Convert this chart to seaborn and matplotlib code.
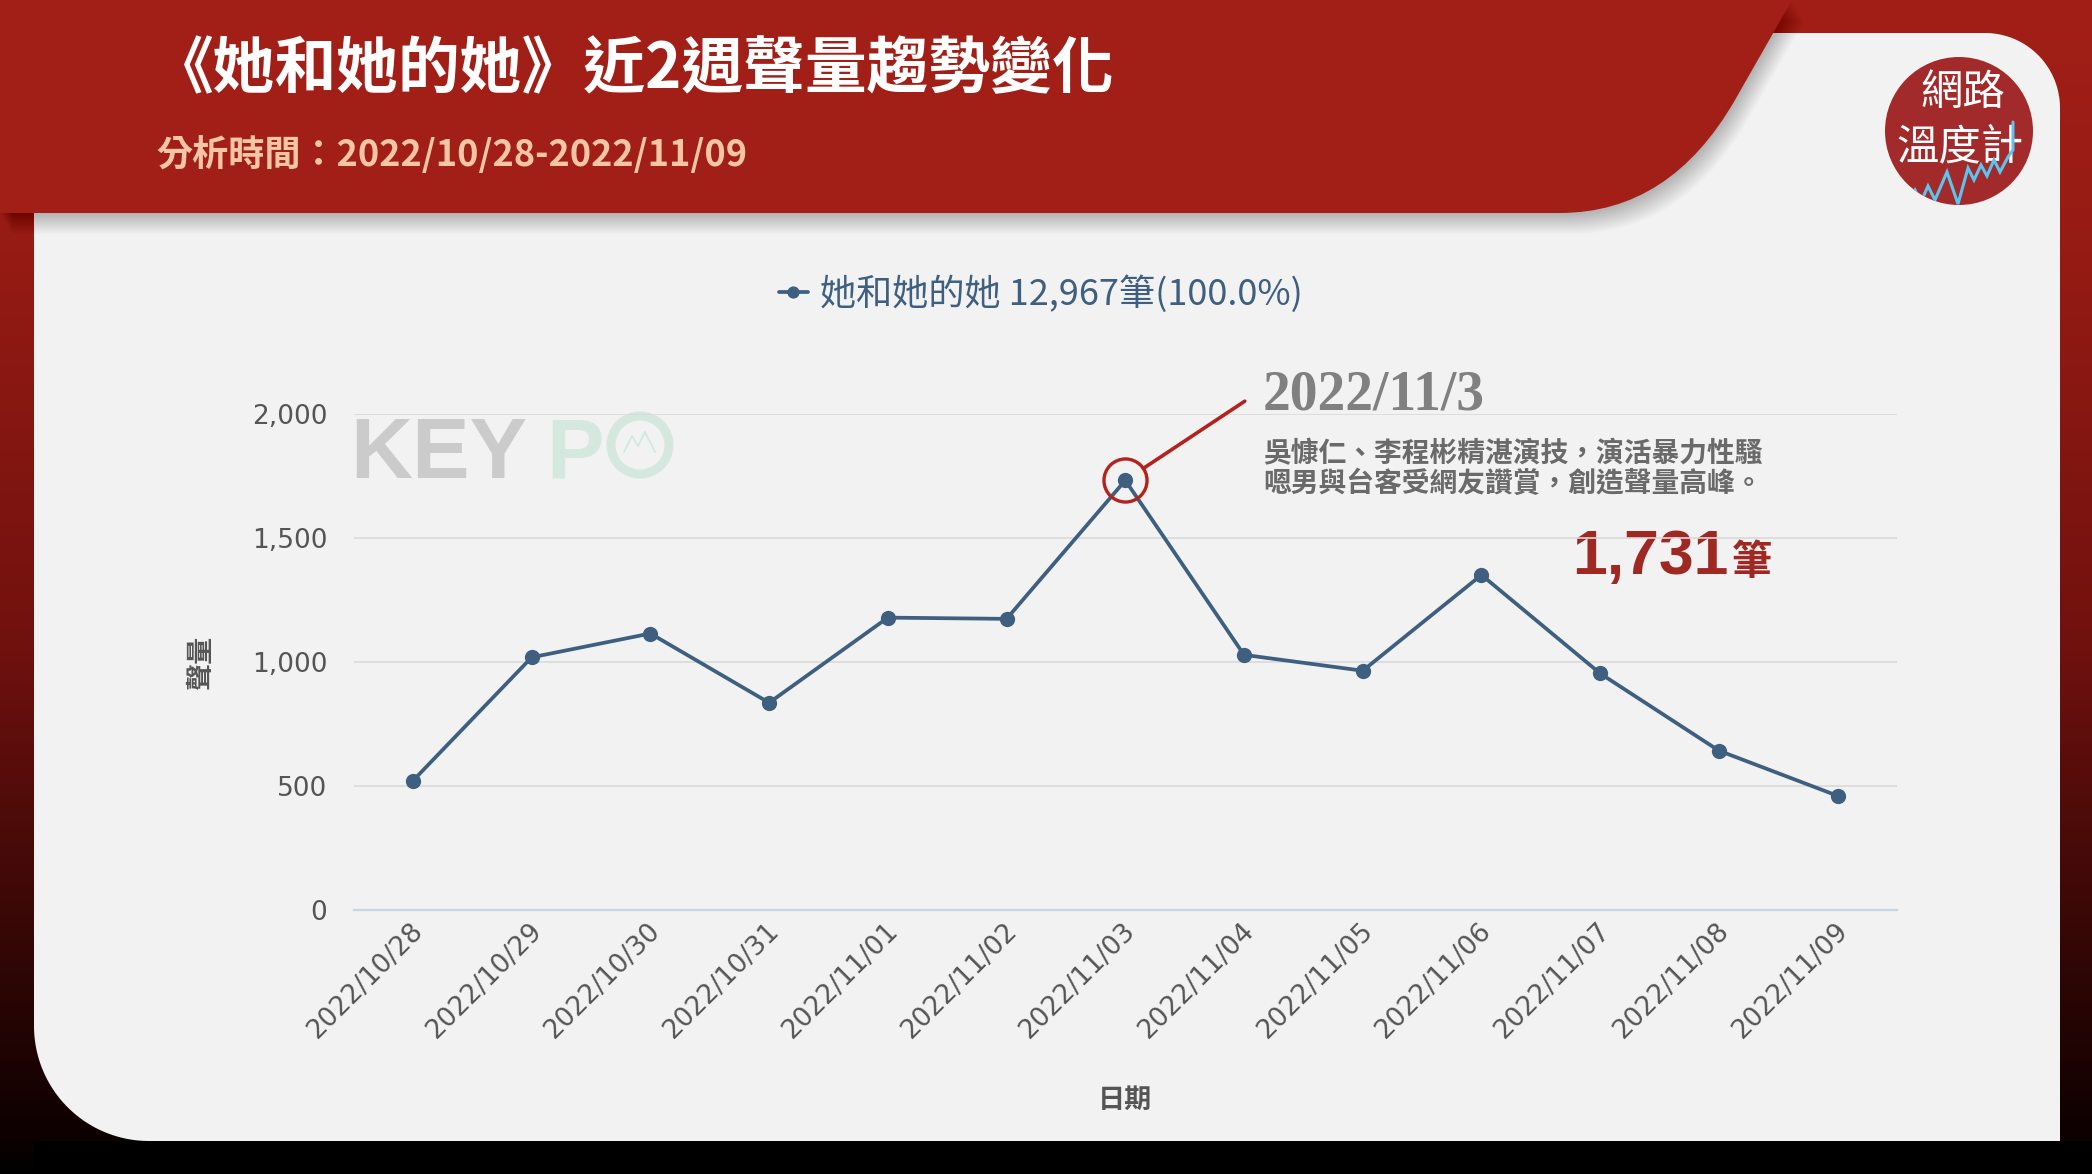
import numpy as np
import pandas as pd
import matplotlib
matplotlib.use("Agg")
import matplotlib.pyplot as plt
import seaborn as sns
from matplotlib.path import Path
from matplotlib.patches import PathPatch, Circle, Polygon
from matplotlib import font_manager as fm
import matplotlib.transforms as mtrans

# ---------------- data ----------------
dates = ["2022/10/28", "2022/10/29", "2022/10/30", "2022/10/31", "2022/11/01",
         "2022/11/02", "2022/11/03", "2022/11/04", "2022/11/05", "2022/11/06",
         "2022/11/07", "2022/11/08", "2022/11/09"]
volumes = [521, 1018, 1114, 835, 1178, 1173, 1731, 1028, 964, 1350, 953, 642, 460]
y_ticks = [0, 500, 1000, 1500, 2000]
y_tick_labels = ["0", "500", "1,000", "1,500", "2,000"]
legend_label = "她和她的她 12,967筆(100.0%)"
title_text = "《她和她的她》近2週聲量趨勢變化"
subtitle_text = "分析時間：2022/10/28-2022/11/09"
x_label = "日期"
y_label = "聲量"
peak_date_text = "2022/11/3"
peak_note = ["吳慷仁、李程彬精湛演技，演活暴力性騷", "嗯男與台客受網友讚賞，創造聲量高峰。"]
peak_value_text = "1,731"
peak_unit = "筆"
logo_lines = ["網路", "溫度計"]

# ---------------- style ----------------
W, H = 2092, 1174
sns.set_theme(style="white")
plt.rcParams["font.family"] = ["Noto Sans CJK TC", "DejaVu Sans"]

LINE = "#3e5f7f"
RED_HDR = "#a21f17"
RED_ANN = "#b2231e"
RED_NUM = "#a02823"
GRAY_TXT = "#555555"

names = {f.name for f in fm.fontManager.ttflist}
narrow = "Liberation Sans Narrow" if "Liberation Sans Narrow" in names else None

fig = plt.figure(figsize=(W / 100, H / 100), dpi=100)

# background axes in pixel coordinates (y down)
bg = fig.add_axes([0, 0, 1, 1])
bg.set_zorder(0)
bg.axis("off")

ys = np.arange(H)
stops_y = [0, 250, 650, 1150, 1174]
stops_r = [162, 150, 112, 10, 0]
stops_g = [31, 27, 17, 0, 0]
stops_b = [23, 20, 14, 0, 0]
grad = np.stack([np.interp(ys, stops_y, stops_r),
                 np.interp(ys, stops_y, stops_g),
                 np.interp(ys, stops_y, stops_b)], axis=-1)[:, None, :] / 255.0
bg.imshow(grad, extent=[0, W, H, 0], aspect="auto", zorder=0, interpolation="bilinear")

# bottom black band
bg.add_patch(plt.Rectangle((34, 1141), W, 40, color="black", zorder=0.5))


def arc(cx, cy, r, a0, a1, n=40):
    a = np.radians(np.linspace(a0, a1, n))
    return np.column_stack([cx + r * np.cos(a), cy + r * np.sin(a)])


x0, y0, x1, y1 = 34, 33, 2060, 1141
r_tr, r_bl = 75, 115
verts = np.vstack([[[x0, y0]],
                   arc(x1 - r_tr, y0 + r_tr, r_tr, -90, 0),
                   [[x1, y1]],
                   arc(x0 + r_bl, y1 - r_bl, r_bl, 90, 180)])
bg.add_patch(Polygon(verts, closed=True, facecolor="#f2f2f2", edgecolor="none", zorder=1))

# header shape with soft shadow
hdr_verts = [(0, 0), (1792, 0), (1735, 100), (1670, 213), (1560, 213), (0, 213), (0, 0)]
hdr_codes = [Path.MOVETO, Path.LINETO, Path.LINETO, Path.CURVE3, Path.CURVE3,
             Path.LINETO, Path.CLOSEPOLY]
hdr_path = Path(hdr_verts, hdr_codes)
for k in range(1, 22):
    sh = PathPatch(hdr_path, facecolor="black", edgecolor="none", alpha=0.012,
                   transform=mtrans.Affine2D().translate(k * 0.6, k) + bg.transData, zorder=1.5)
    bg.add_patch(sh)
bg.add_patch(PathPatch(hdr_path, facecolor=RED_HDR, edgecolor="none", zorder=2))

bg.text(152, 70, title_text, color="white", fontsize=44.5, fontweight="bold",
        va="center", ha="left", zorder=3)
bg.text(156, 155, subtitle_text, color="#f5c6a6", fontsize=26, fontweight="bold",
        va="center", ha="left", zorder=3)

# logo
logo = Circle((1959, 131), 74, facecolor="#a32a2a", edgecolor="none", zorder=3)
bg.add_patch(logo)
bg.text(1963, 93, logo_lines[0], color="white", fontsize=30.5, ha="center", va="center", zorder=4)
bg.text(1960, 147, logo_lines[1], color="white", fontsize=30.5, ha="center", va="center", zorder=4)
zz = np.array([(1905, 205), (1915, 190), (1921, 202), (1928, 186), (1935, 200), (1947, 172),
               (1958, 204), (1968, 168), (1974, 180), (1981, 165), (1987, 176), (1994, 160),
               (2000, 172), (2008, 157), (2013, 150), (2013, 122)])
zl, = bg.plot(zz[:, 0], zz[:, 1], color="#5bc4f0", lw=2.2, zorder=4, solid_joinstyle="miter")
zl.set_clip_path(logo)

# KEYPO watermark
bg.text(350, 478, "KEY", fontsize=62, fontweight="heavy", color="#cbcbcb",
        family=["Liberation Sans", "DejaVu Sans"], va="baseline", ha="left", zorder=1.2)
bg.text(546, 478, "P", fontsize=62, fontweight="heavy", color="#d4e8e0",
        family=["Liberation Sans", "DejaVu Sans"], va="baseline", ha="left", zorder=1.2)
bg.add_patch(Circle((640, 445), 29, fill=False, lw=6.5, edgecolor="#d4e8e0", zorder=1.2))
wm = np.array([(624, 452), (632, 436), (638, 446), (645, 432), (655, 452)])
bg.plot(wm[:, 0], wm[:, 1], color="#d4e8e0", lw=1.4, zorder=1.2)

bg.set_xlim(0, W)
bg.set_ylim(H, 0)

# ---------------- chart ----------------
ax_l, ax_r, ax_t, ax_b = 353.6, 1897.0, 413.6, 910.0
ax = fig.add_axes([ax_l / W, 1 - ax_b / H, (ax_r - ax_l) / W, (ax_b - ax_t) / H])
ax.set_zorder(2)
ax.patch.set_alpha(0)

df = pd.DataFrame({"date": dates, "volume": volumes})
sns.lineplot(data=df, x="date", y="volume", ax=ax, color=LINE, lw=2.7, marker="o",
             markersize=11, markeredgewidth=0, sort=False, label=legend_label, zorder=4)

n = len(dates)
ax.set_xlim(-0.5, n - 0.5)
ax.set_ylim(0, 2000)
ax.set_yticks(y_ticks)
ax.set_yticklabels(y_tick_labels, fontsize=19, color=GRAY_TXT, family="DejaVu Sans")
ax.set_xticks(range(n))
ax.set_xticklabels(dates, rotation=45, ha="right", va="center", rotation_mode="anchor",
                   fontsize=19, color=GRAY_TXT, family="DejaVu Sans")
ax.set_xticks(np.arange(-0.5, n, 1), minor=True)
ax.tick_params(axis="x", which="major", length=0, pad=12.5)
ax.tick_params(axis="x", which="minor", length=9.5, width=1.1, color="#c8d3e3")
ax.tick_params(axis="y", length=0, pad=19)
shift = mtrans.ScaledTranslation(6 / 100, 0, fig.dpi_scale_trans)
for lab in ax.get_xticklabels():
    lab.set_transform(lab.get_transform() + shift)

ax.yaxis.grid(True, color="#d9d9d9", lw=1.2)
ax.xaxis.grid(False)
for s in ["left", "right", "top"]:
    ax.spines[s].set_visible(False)
ax.spines["bottom"].set_color("#c8d3e3")
ax.spines["bottom"].set_linewidth(1.6)
ax.spines["bottom"].set_zorder(3)

ax.set_xlabel(x_label, fontsize=19.5, color=GRAY_TXT, fontweight="bold")
ax.xaxis.set_label_coords(0.5, -0.355)
ax.set_ylabel(y_label, fontsize=19.5, color=GRAY_TXT, fontweight="bold")
ax.yaxis.set_label_coords(-0.09, 0.5)

leg = ax.legend(loc="center", bbox_to_anchor=(1041 / W, 1 - 294 / H),
                bbox_transform=fig.transFigure, frameon=False,
                prop={"size": 26, "weight": "medium"},
                handlelength=0.8, handletextpad=0.35, markerscale=0.8, labelcolor=LINE)

# peak annotation
pk = int(np.argmax(volumes))
ax.plot([pk], [volumes[pk]], marker="o", ms=31, mfc="none", mec=RED_ANN, mew=2.4,
        zorder=5, linestyle="none")
ax.annotate("", xy=(pk, volumes[pk]), xytext=(86, 57), textcoords="offset points",
            arrowprops=dict(arrowstyle="-", color=RED_ANN, lw=2.6, shrinkA=0, shrinkB=15.6),
            zorder=5)

bg.text(1263, 396, peak_date_text, family=["Liberation Serif", "DejaVu Serif"],
        fontweight="bold", fontsize=40, color="#808080", va="center", ha="left", zorder=3)
bg.text(1263, 454, peak_note[0], fontsize=20, fontweight="bold", color="#6a6a6a",
        va="center", ha="left", zorder=3)
bg.text(1263, 484, peak_note[1], fontsize=20, fontweight="bold", color="#6a6a6a",
        va="center", ha="left", zorder=3)
if narrow:
    bg.text(1728, 574, peak_value_text, family=[narrow, "DejaVu Sans"], fontweight="bold",
            fontsize=49, color=RED_NUM, va="baseline", ha="right", zorder=3)
else:
    bg.text(1728, 574, peak_value_text, family=["Liberation Sans", "DejaVu Sans"],
            fontweight="bold", fontsize=45, color=RED_NUM, va="baseline", ha="right", zorder=3)
bg.text(1732, 574, peak_unit, fontsize=29, fontweight="bold", color=RED_NUM,
        va="baseline", ha="left", zorder=3)

fig.savefig("out.png", dpi=100)
